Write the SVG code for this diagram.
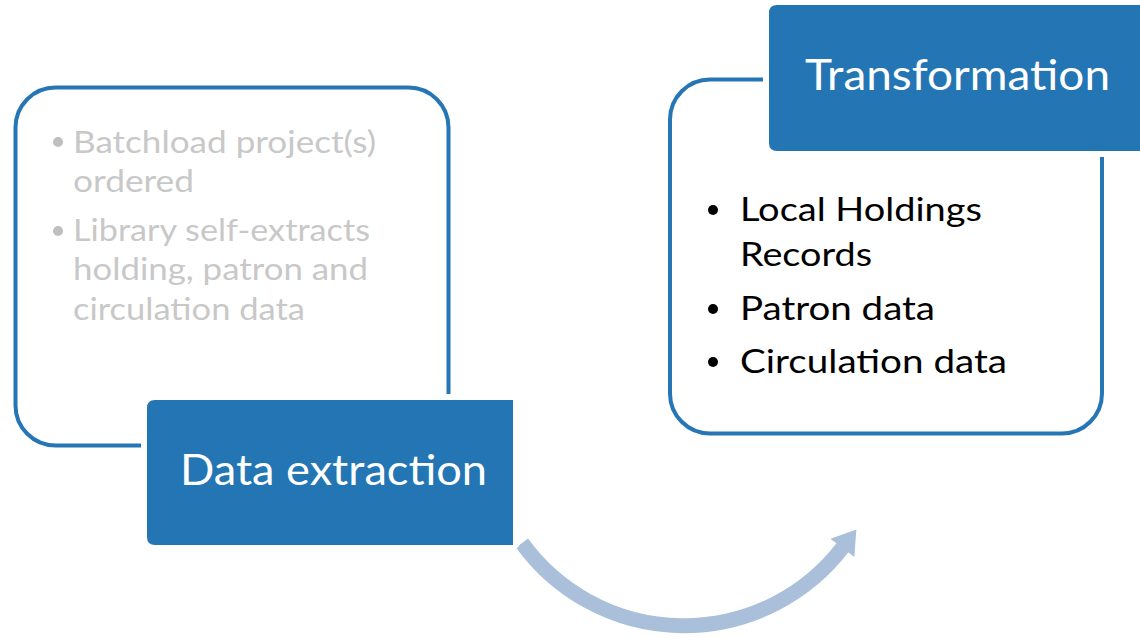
<svg xmlns="http://www.w3.org/2000/svg" width="1140" height="638" viewBox="0 0 1140 638">
<style>
.outline{fill:#fff;stroke:#2676b5;stroke-width:4}
.head{fill:#2475b4}
.gap{fill:#fff}
.title{font-family:Lato,"Open Sans","Liberation Sans",sans-serif;font-size:42px;fill:#fff}
.gray{font-family:Lato,"Open Sans","Liberation Sans",sans-serif;font-size:31px;fill:#c8c8c8}
.black{font-family:Lato,"Open Sans","Liberation Sans",sans-serif;font-size:32px;fill:#000}
</style>
<defs>
<marker id="ah" markerUnits="userSpaceOnUse" markerWidth="40" markerHeight="40" refX="0" refY="0" viewBox="-2 -20 30 40" orient="auto" overflow="visible">
<path d="M-1,-15 L22,0 L-1,15 Z" fill="#aabfda"/>
</marker>
</defs>
<g id="connectors">
<path d="M522,543 A200,200 0 0,0 843,547" fill="none" stroke="#aabfda" stroke-width="15" marker-end="url(#ah)"/>
</g>
<g id="extraction">
<rect class="outline" x="15.5" y="87.5" width="433" height="358" rx="40"/>
<rect class="gap" x="141" y="394" width="380" height="157" rx="12"/>
<path class="head" d="M155,400 H513 V545 H155 Q147,545 147,537 V408 Q147,400 155,400 Z"/>
<text class="title" x="180" y="485" textLength="307" lengthAdjust="spacingAndGlyphs">Data extraction</text>
<circle cx="58" cy="142" r="5" fill="#bfbfbf"/>
<text class="gray" x="73" y="153" textLength="303" lengthAdjust="spacingAndGlyphs">Batchload project(s)</text>
<text class="gray" x="73" y="192" textLength="121" lengthAdjust="spacingAndGlyphs">ordered</text>
<circle cx="58" cy="231" r="5" fill="#bfbfbf"/>
<text class="gray" x="73" y="241" textLength="297" lengthAdjust="spacingAndGlyphs">Library self-extracts</text>
<text class="gray" x="73" y="280" textLength="295" lengthAdjust="spacingAndGlyphs">holding, patron and</text>
<text class="gray" x="73" y="320" textLength="232" lengthAdjust="spacingAndGlyphs">circulation data</text>
</g>
<g id="transformation">
<rect class="outline" x="670" y="79.5" width="432" height="354" rx="40"/>
<rect class="gap" x="763" y="-1" width="390" height="158" rx="12"/>
<path class="head" d="M777,5 H1145 V151 H777 Q769,151 769,143 V13 Q769,5 777,5 Z"/>
<text class="title" x="805" y="90" textLength="305" lengthAdjust="spacingAndGlyphs">Transformation</text>
<circle cx="713" cy="210" r="5" fill="#000"/>
<text class="black" x="740" y="221" textLength="242" lengthAdjust="spacingAndGlyphs">Local Holdings</text>
<text class="black" x="740" y="266" textLength="132" lengthAdjust="spacingAndGlyphs">Records</text>
<circle cx="713" cy="309" r="5" fill="#000"/>
<text class="black" x="740" y="320" textLength="195" lengthAdjust="spacingAndGlyphs">Patron data</text>
<circle cx="713" cy="362" r="5" fill="#000"/>
<text class="black" x="740" y="373" textLength="267" lengthAdjust="spacingAndGlyphs">Circulation data</text>
</g>
</svg>
